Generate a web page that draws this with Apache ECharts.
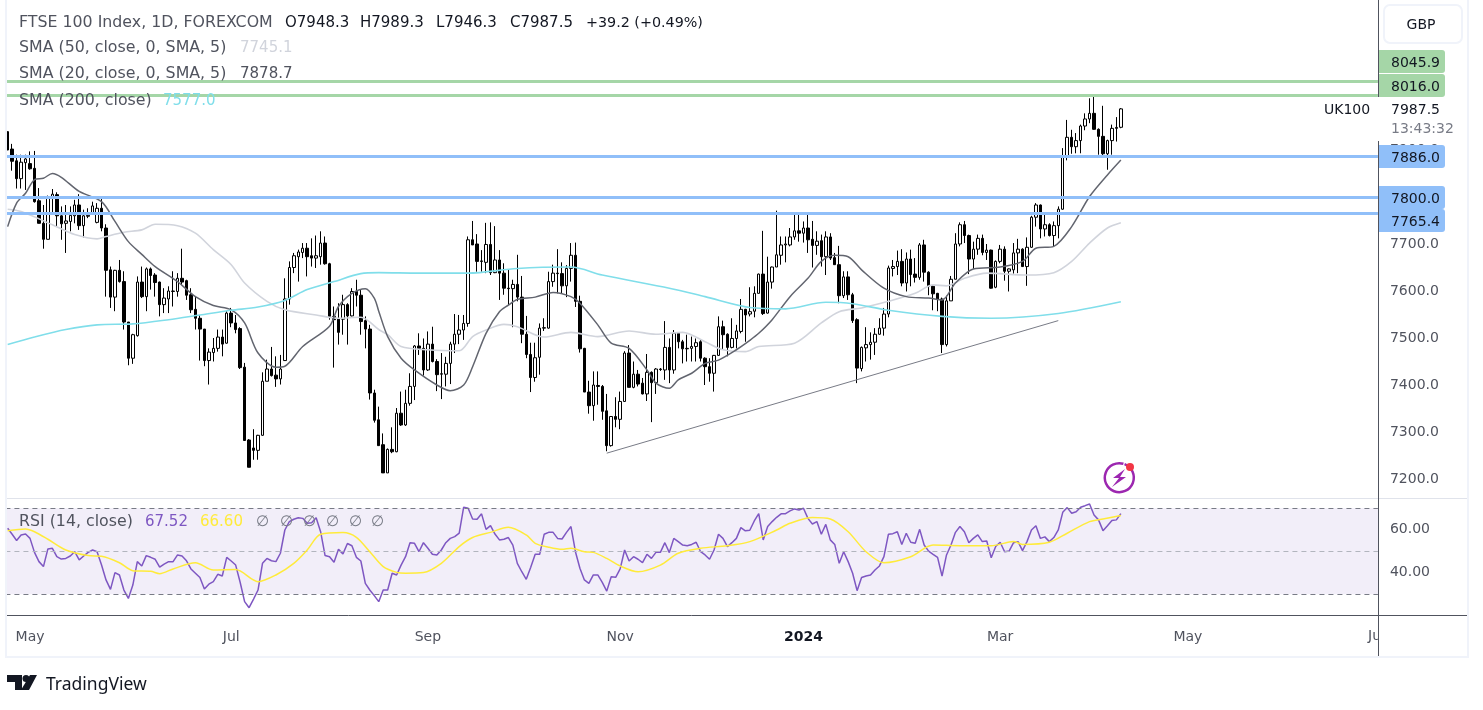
<!DOCTYPE html>
<html lang="en">
<head>
<meta charset="UTF-8">
<title>FTSE 100 Index</title>
<script src="https://cdn.jsdelivr.net/npm/echarts@6/dist/echarts.min.js"></script>
<style>
  html, body { margin: 0; padding: 0; background: #fff; }
  #main { width: 1483px; height: 710px; }
</style>
</head>
<body>
<div id="main"></div>
<script>
// open, close, low, high
var candles = [
  [7939,7900,7900,7939],[7902,7876,7856,7913],[7877,7839,7818,7890],[7839,7874,7818,7890],[7873,7881,7815,7890],
  [7871,7860,7858,7897],[7861,7790,7788,7898],[7792,7744,7744,7819],[7744,7710,7690,7783],[7710,7798,7710,7803],
  [7801,7806,7766,7817],[7805,7760,7737,7810],[7760,7743,7709,7780],[7744,7749,7681,7783],[7748,7761,7727,7780],
  [7760,7783,7744,7794],[7783,7739,7730,7806],[7739,7760,7714,7773],[7759,7761,7755,7776],[7767,7781,7762,7790],
  [7746,7776,7744,7787],[7776,7734,7727,7796],[7734,7644,7588,7742],[7645,7587,7564,7652],[7587,7644,7557,7645],
  [7644,7620,7618,7666],[7620,7534,7518,7642],[7534,7457,7442,7534],[7457,7507,7445,7509],[7505,7619,7503,7631],
  [7619,7588,7585,7652],[7588,7647,7557,7650],[7647,7633,7603,7650],[7634,7618,7588,7638],[7619,7571,7546,7620],
  [7571,7585,7553,7606],[7583,7600,7553,7610],[7599,7600,7567,7642],[7599,7627,7588,7638],[7627,7619,7613,7690],
  [7622,7591,7581,7624],[7592,7560,7553,7606],[7561,7542,7518,7588],[7542,7519,7452,7549],[7519,7452,7440,7519],
  [7452,7470,7401,7478],[7469,7478,7450,7500],[7478,7502,7471,7518],[7502,7487,7461,7518],[7489,7553,7488,7557],
  [7553,7532,7523,7564],[7532,7518,7510,7549],[7520,7437,7434,7523],[7438,7282,7282,7447],[7283,7225,7225,7285],
  [7266,7261,7241,7306],[7261,7293,7241,7294],[7293,7408,7292,7427],[7408,7434,7408,7454],[7434,7420,7418,7481],
  [7421,7413,7396,7461],[7413,7434,7401,7464],[7452,7583,7452,7627],[7583,7650,7571,7663],[7650,7675,7638,7681],
  [7673,7683,7620,7688],[7682,7691,7670,7702],[7691,7673,7631,7702],[7675,7670,7652,7712],[7670,7675,7649,7718],
  [7673,7702,7656,7727],[7702,7658,7656,7716],[7658,7546,7539,7660],[7546,7539,7437,7567],[7540,7512,7486,7574],
  [7540,7571,7507,7592],[7571,7547,7486,7574],[7547,7599,7546,7606],[7599,7591,7567,7624],[7591,7535,7507,7603],
  [7537,7519,7478,7546],[7519,7383,7369,7528],[7383,7325,7320,7390],[7326,7271,7271,7354],
  [7273,7213,7213,7297],[7213,7263,7213,7265],[7263,7258,7255,7310],[7258,7340,7257,7351],[7340,7315,7313,7386],
  [7315,7361,7313,7390],[7361,7397,7356,7425],[7397,7483,7368,7485],[7483,7478,7464,7510],[7478,7432,7420,7499],
  [7432,7487,7430,7514],[7487,7450,7448,7524],[7450,7422,7387,7455],[7423,7424,7370,7468],[7423,7446,7397,7460],
  [7446,7487,7402,7492],[7487,7508,7468,7551],[7508,7517,7487,7549],[7517,7531,7496,7549],[7531,7709,7524,7716],
  [7709,7698,7698,7749],[7700,7663,7641,7721],[7664,7663,7641,7687],[7661,7699,7638,7745],[7699,7639,7634,7746],
  [7639,7666,7638,7738],[7666,7638,7581,7687],[7638,7606,7592,7659],[7606,7605,7570,7645],[7605,7614,7523,7624],
  [7614,7587,7578,7677],[7587,7508,7489,7632],[7508,7465,7457,7547],[7465,7416,7385,7490],[7416,7458,7407,7490],
  [7459,7521,7422,7531],[7521,7522,7515,7542],[7521,7620,7520,7641],[7620,7638,7609,7656],[7638,7637,7595,7689],
  [7637,7611,7594,7661],[7611,7648,7587,7655],[7648,7676,7620,7702],[7676,7578,7566,7703],[7578,7477,7469,7590],
  [7478,7385,7385,7479],[7385,7356,7339,7409],[7356,7400,7324,7429],[7399,7397,7358,7429],[7397,7344,7326,7400],
  [7345,7271,7259,7381],[7271,7333,7269,7334],[7333,7327,7310,7374],[7327,7365,7306,7386],[7365,7468,7365,7472],
  [7468,7395,7395,7485],[7395,7423,7393,7450],[7423,7402,7397,7432],[7404,7381,7380,7415],[7381,7427,7366,7466],
  [7427,7405,7321,7429],[7405,7434,7381,7436],[7434,7433,7430,7436],[7432,7480,7411,7536],[7480,7432,7404,7499],
  [7432,7510,7424,7517],[7510,7492,7478,7512],[7492,7477,7446,7496],[7477,7478,7450,7507],[7478,7482,7450,7503],
  [7482,7490,7450,7499],[7492,7457,7450,7496],[7457,7439,7400,7459],[7439,7425,7407,7457],[7425,7463,7386,7464],
  [7463,7524,7462,7546],[7524,7507,7475,7537],[7508,7480,7461,7510],[7480,7499,7478,7542],[7499,7515,7478,7528],
  [7514,7561,7510,7583],[7561,7549,7492,7562],[7551,7556,7546,7608],
  [7557,7595,7544,7610],[7595,7636,7595,7637],[7636,7552,7549,7728],[7553,7619,7552,7673],[7619,7651,7605,7652],
  [7651,7677,7651,7771],[7676,7698,7656,7716],[7698,7700,7661,7716],[7698,7715,7695,7734],[7715,7728,7709,7762],
  [7728,7723,7705,7762],[7723,7734,7703,7748],[7734,7709,7681,7762],[7710,7697,7650,7749],[7697,7706,7677,7727],
  [7707,7673,7652,7720],[7673,7715,7634,7727],[7715,7670,7666,7723],[7671,7656,7656,7681],[7656,7590,7574,7696],
  [7590,7630,7585,7642],[7630,7592,7581,7642],[7592,7537,7532,7596],[7539,7436,7404,7542],[7435,7480,7429,7482],
  [7479,7486,7450,7523],[7486,7491,7454,7512],[7491,7508,7464,7521],[7508,7521,7507,7542],[7521,7551,7505,7564],
  [7551,7649,7544,7654],[7648,7652,7631,7666],[7652,7663,7634,7686],[7663,7617,7610,7689],[7617,7668,7599,7682],
  [7668,7635,7610,7688],[7636,7629,7618,7670],[7629,7698,7624,7702],[7698,7640,7620,7709],[7640,7610,7591,7642],
  [7610,7594,7559,7612],[7595,7583,7557,7596],[7583,7486,7468,7586],[7486,7579,7482,7590],[7579,7625,7579,7632],
  [7625,7700,7625,7723],[7700,7741,7695,7746],[7741,7718,7702,7749],[7718,7668,7636,7720],[7668,7689,7647,7705],
  [7689,7712,7677,7720],[7712,7682,7676,7720],[7682,7687,7666,7700],[7687,7606,7605,7688],[7608,7663,7606,7665],
  [7663,7689,7659,7698],[7689,7642,7622,7695],[7642,7647,7599,7648],[7645,7681,7637,7702],[7681,7689,7638,7711],
  [7689,7652,7651,7691],[7652,7693,7611,7714],[7693,7757,7692,7760],[7757,7783,7737,7787],[7783,7732,7712,7784],
  [7732,7741,7716,7762],[7741,7718,7716,7744],[7718,7739,7695,7748],[7739,7774,7712,7780],[7774,7886,7773,7904],
  [7886,7927,7878,7964],[7927,7907,7892,7943],[7907,7920,7893,7936],[7920,7951,7893,7954],[7951,7966,7942,7978],
  [7966,7978,7957,8010],[7978,7944,7943,8014],[7944,7929,7890,7946],[7929,7892,7883,7994],[7892,7920,7858,7922],
  [7920,7946,7890,7954],[7946,7948,7918,7970],[7948.3,7987.5,7946.3,7989.3]
];

var sma20 = [[0,7737],[2,7787],[4,7808],[6,7837],[8,7840],[10,7850],[12,7842],[16,7812],[21,7790],[24,7748],[27,7705],[30,7678],[33,7652],[38,7620],[42,7588],[46,7569],[50,7560],[53,7532],[56,7468],[60,7438],[62,7440],[66,7482],[72,7525],[74,7567],[77,7595],[80,7605],[82,7585],[83,7557],[85,7503],[88,7457],[91,7432],[96,7400],[99,7388],[102,7400],[104,7439],[107,7510],[110,7556],[112,7570],[114,7582],[118,7587],[122,7597],[126,7588],[128,7574],[132,7528],[135,7489],[139,7478],[143,7432],[145,7404],[148,7393],[150,7411],[153,7425],[156,7446],[159,7453],[163,7475],[166,7495],[168,7510],[171,7539],[175,7588],[179,7627],[182,7663],[185,7676],[188,7673],[191,7645],[196,7606],[201,7588],[206,7585],[209,7581],[212,7617],[216,7647],[222,7651],[227,7663],[230,7691],[234,7695],[238,7737],[242,7801],[246,7847],[249,7878.7]];
var sma50 = [[0,7774],[3,7769],[10,7741],[15,7720],[20,7711],[22,7716],[26,7725],[30,7730],[33,7742],[38,7739],[42,7723],[46,7688],[50,7656],[53,7617],[58,7578],[62,7560],[69,7549],[74,7542],[79,7544],[83,7518],[85,7507],[88,7482],[94,7475],[101,7473],[104,7503],[107,7517],[111,7529],[114,7524],[120,7502],[126,7512],[132,7503],[139,7515],[145,7508],[151,7512],[156,7492],[160,7475],[165,7471],[168,7482],[176,7489],[182,7532],[186,7556],[191,7564],[197,7578],[203,7595],[207,7613],[210,7611],[214,7627],[219,7638],[228,7634],[234,7639],[238,7663],[242,7702],[246,7734],[249,7745.1]];
var sma200 = [[0,7486],[6,7502],[13,7518],[20,7528],[28,7530],[36,7539],[43,7549],[50,7559],[56,7566],[62,7580],[67,7603],[73,7620],[79,7637],[83,7639],[92,7638],[103,7638],[114,7648],[126,7651],[133,7634],[148,7606],[156,7588],[166,7565],[174,7562],[183,7576],[189,7573],[197,7559],[209,7546],[220,7542],[235,7552],[249,7577]];

var rsi = [
  60.7,57.9,55.0,57.6,58.0,56.0,49.5,45.2,42.9,51.1,51.4,47.5,46.4,46.7,47.8,49.8,46.0,47.8,49.5,50.6,
  49.8,43.6,36.7,32.3,40.1,39.0,32.0,28.1,34.3,45.2,43.2,48.0,47.2,46.3,42.6,44.0,45.2,45.2,48.3,47.8,
  45.6,41.8,39.8,37.8,32.5,34.7,35.9,39.3,38.5,47.2,45.5,43.6,35.6,26.6,23.8,27.8,32.0,44.4,46.7,45.6,
  45.2,49.1,59.9,63.8,64.9,65.6,65.3,63.0,63.3,65.6,59.1,48.0,47.5,44.9,50.9,48.8,53.6,52.6,47.2,45.5,
  35.1,32.0,29.4,26.6,32.0,32.0,39.8,39.0,43.6,47.5,54.0,53.7,49.8,54.0,51.4,48.6,48.3,50.6,54.0,56.0,
  56.8,58.4,70.5,70.0,65.0,64.9,67.4,60.2,61.9,58.0,55.3,55.6,56.4,52.9,44.4,40.5,37.0,42.6,48.6,48.6,
  57.9,58.8,58.8,56.0,
  55.7,58.8,61.5,49.8,42.1,36.7,35.1,39.0,39.0,35.6,31.5,38.2,37.9,41.8,50.6,45.5,47.5,46.3,44.7,48.6,
  46.7,49.5,49.5,54.0,49.4,56.0,54.5,52.9,52.6,53.2,54.2,49.8,48.3,46.3,50.6,57.9,56.0,52.2,54.0,56.0,
  61.0,59.5,59.8,64.1,67.5,55.3,61.5,63.8,65.8,67.4,67.5,68.8,69.7,69.2,70.0,65.3,62.7,63.8,57.9,62.5,
  55.3,53.2,44.4,49.8,45.2,39.8,31.7,37.8,38.5,39.0,41.3,43.2,47.5,57.9,58.2,59.1,53.2,58.4,54.2,53.7,
  60.2,52.9,50.1,48.6,47.2,38.5,48.3,52.9,58.8,61.5,59.1,54.0,56.0,57.6,54.5,54.8,47.0,52.2,54.2,49.8,
  50.1,54.0,54.5,50.3,54.5,59.9,61.9,56.0,56.7,54.5,56.4,59.9,68.1,70.3,67.7,68.4,70.5,71.2,72.0,66.9,
  64.6,59.6,61.9,64.3,64.6,67.52
];
var rsiMa = [[0,59.5],[4,60.4],[6,59.1],[9,55.6],[13,50.6],[18,48.0],[21,47.7],[25,44.7],[28,41.0],[32,40.7],[34,39.6],[37,41.8],[42,44.7],[46,41.3],[51,41.5],[56,35.9],[60,39.0],[64,44.4],[67,50.6],[70,57.9],[75,58.7],[78,56.5],[81,49.8],[84,42.9],[87,40.2],[89,39.8],[93,40.1],[97,44.4],[101,52.2],[104,56.4],[108,58.8],[112,61.2],[116,57.6],[118,53.7],[121,51.9],[124,50.9],[126,51.4],[129,49.8],[131,49.5],[134,46.7],[137,43.2],[141,40.5],[146,43.6],[150,49.1],[155,51.4],[161,52.6],[166,54.5],[172,59.9],[175,63.0],[180,65.7],[184,65.0],[188,59.1],[192,49.8],[196,44.7],[202,47.5],[207,52.9],[213,52.6],[220,52.6],[225,54.5],[227,53.2],[233,54.2],[237,58.4],[242,63.8],[245,65.0],[249,66.6]];

var supports = [7886, 7800, 7765.4];
var resistances = [8045.9, 8016];
var trendLine = [[134,7255],[235,7537]];

var priceTicks = [7200,7300,7400,7500,7600,7700,7800,7900,8000,8100];
var rsiTicks = [40,60];
var rsiBands = [70,50,30];
var monthBars = [5,50,94,137,178,222,264];
var monthLabels = ['May','Jul','Sep','Nov','2024','Mar','May'];

var barSlots = 307;
var categories = [];
for (var i = 0; i < barSlots; i++) categories.push(String(i));

var FONT = '"DejaVu Sans"';
var GREY = '#50535e';

function levelLine(values, color) {
    return {
        silent: true, symbol: 'none', animation: false,
        label: { show: false },
        lineStyle: { color: color, width: 3, type: 'solid' },
        data: values.map(function (v) { return { yAxis: v }; })
    };
}

function avgLine(name, data, color, width) {
    return {
        name: name, type: 'line', data: data, xAxisIndex: 0, yAxisIndex: 0, z: 4,
        symbol: 'none', smooth: 0.3, silent: true,
        lineStyle: { color: color, width: width }
    };
}

function txt(x, y, s, color, extra) {
    var style = { x: x, y: y, text: s, fill: color, font: '14px ' + FONT, textVerticalAlign: 'middle' };
    for (var k in extra) style[k] = extra[k];
    return { type: 'text', z: 50, silent: true, style: style };
}

// header names run a little larger than the numbers beside them
function head(x, y, s, color) {
    return txt(x, y, s, color, { font: '15.8px ' + FONT });
}
function headVal(x, y, s, color, size) {
    return txt(x, y, s, color, { font: (size || 15) + 'px ' + FONT });
}

function tag(y, s, color) {
    return [
        { type: 'rect', z: 40, silent: true, shape: { x: 1378, y: y, width: 67, height: 23, r: [0, 3, 3, 0] }, style: { fill: color } },
        { type: 'text', z: 41, silent: true, style: { x: 1391, y: y + 13, text: s, fill: '#131722', font: '14px ' + FONT, textVerticalAlign: 'middle' } }
    ];
}

var graphics = [
    // frame
    { type: 'rect', z: 30, silent: true, shape: { x: 0, y: 0, width: 5.5, height: 660 }, style: { fill: '#fff' } },
    { type: 'rect', z: 31, silent: true, shape: { x: 5, y: 0, width: 2, height: 658 }, style: { fill: '#f0f3fa' } },
    { type: 'rect', z: 31, silent: true, shape: { x: 1467, y: 0, width: 2, height: 658 }, style: { fill: '#f0f3fa' } },
    { type: 'rect', z: 31, silent: true, shape: { x: 5, y: 656, width: 1464, height: 2 }, style: { fill: '#f0f3fa' } },
    { type: 'rect', z: 20, silent: true, shape: { x: 7, y: 498, width: 1460, height: 1 }, style: { fill: '#e0e3eb' } },
    { type: 'rect', z: 20, silent: true, shape: { x: 1378, y: 615, width: 89, height: 1 }, style: { fill: GREY } },
    { type: 'rect', z: 61, silent: true, shape: { x: 1378, y: 0, width: 1, height: 656 }, style: { fill: GREY } },

    // GBP button
    { type: 'rect', z: 62, silent: true, shape: { x: 1384, y: 5, width: 78, height: 38, r: 6 }, style: { fill: '#fff', stroke: '#f0f3fa', lineWidth: 2 } },
    { type: 'text', z: 63, silent: true, style: { x: 1421, y: 25, text: 'GBP', fill: '#131722', font: '14px ' + FONT, textAlign: 'center', textVerticalAlign: 'middle' } },

    // header
    head(19, 23, 'FTSE 100 Index, 1D, FOREXCOM', GREY),
    headVal(285, 23, 'O7948.3', '#131722'),
    headVal(360, 23, 'H7989.3', '#131722'),
    headVal(436, 23, 'L7946.3', '#131722'),
    headVal(510, 23, 'C7987.5', '#131722'),
    headVal(586, 23, '+39.2 (+0.49%)', '#131722', 14.3),
    head(19, 48, 'SMA (50, close, 0, SMA, 5)', GREY),
    headVal(240, 48, '7745.1', '#d1d4dc'),
    head(19, 74, 'SMA (20, close, 0, SMA, 5)', GREY),
    headVal(240, 74, '7878.7', GREY),
    head(19, 101, 'SMA (200, close)', GREY),
    headVal(163, 101, '7577.0', '#80deea'),

    // RSI header
    head(19, 522, 'RSI (14, close)', GREY),
    headVal(145, 522, '67.52', '#7e57c2'),
    headVal(200, 522, '66.60', '#ffeb3b'),

    // last price
    { type: 'rect', z: 62, silent: true, shape: { x: 1378, y: 97, width: 68, height: 44 }, style: { fill: '#fff' } },
    txt(1324, 110, 'UK100', '#131722'),
    { type: 'text', z: 63, silent: true, style: { x: 1391, y: 110, text: '7987.5', fill: '#131722', font: '14px ' + FONT, textVerticalAlign: 'middle' } },
    { type: 'text', z: 63, silent: true, style: { x: 1391, y: 129, text: '13:43:32', fill: '#787b86', font: '14px ' + FONT, textVerticalAlign: 'middle' } },

    // clipped Jul label on the time axis
    txt(1368, 636, 'Jul', GREY),
    { type: 'rect', z: 60, silent: true, shape: { x: 1378, y: 616, width: 89, height: 40 }, style: { fill: '#fff' } },

    // lightning badge
    { type: 'arc', z: 40, silent: true, shape: { cx: 1119.3, cy: 477.7, r: 14.5, startAngle: -1.2, endAngle: 5.0 }, style: { stroke: '#9c27b0', lineWidth: 2.5, fill: null } },
    { type: 'polygon', z: 41, silent: true, shape: { points: [[1125, 469], [1113, 478], [1119, 478], [1112, 487], [1126, 477], [1120, 477]] }, style: { fill: '#9c27b0' } },
    { type: 'circle', z: 42, silent: true, shape: { cx: 1130, cy: 467, r: 4 }, style: { fill: '#f23645' } },

    // TradingView mark
    { type: 'polygon', z: 40, silent: true, shape: { points: [[7, 675], [22, 675], [22, 690], [15, 690], [15, 682], [7, 682]] }, style: { fill: '#131722' } },
    { type: 'circle', z: 40, silent: true, shape: { cx: 26, cy: 678.5, r: 3.5 }, style: { fill: '#131722' } },
    { type: 'polygon', z: 40, silent: true, shape: { points: [[30, 675], [37, 675], [29, 690], [21, 690]] }, style: { fill: '#131722' } },
    txt(46, 685, 'TradingView', '#131722', { font: '17.5px "Noto Sans"' })
];
[256, 280, 303, 326, 349, 371].forEach(function (x) { graphics.push(headVal(x, 522, '\u2205', '#787b86')); });
graphics = graphics.concat(
    tag(50, '8045.9', '#a5d6a7'), tag(74, '8016.0', '#a5d6a7'),
    tag(145, '7886.0', '#90bff9'), tag(186, '7800.0', '#90bff9'), tag(209, '7765.4', '#90bff9')
);

var chart = echarts.init(document.getElementById('main'));
var GRID_X = { left: 5.43, width: 1372.5 };
chart.setOption({
    animation: false,
    backgroundColor: '#fff',
    textStyle: { fontFamily: FONT },
    grid: [
        { left: GRID_X.left, width: GRID_X.width, top: 8, height: 490 },
        { left: GRID_X.left, width: GRID_X.width, top: 499, height: 116 }
    ],
    xAxis: [
        { type: 'category', gridIndex: 0, data: categories, axisLine: { show: false }, axisTick: { show: false }, axisLabel: { show: false }, splitLine: { show: false } },
        {
            type: 'category', gridIndex: 1, data: categories,
            axisLine: { show: true, onZero: false, lineStyle: { color: GREY, width: 1 } },
            axisTick: { show: false }, splitLine: { show: false },
            axisLabel: {
                margin: 15, fontSize: 14, color: GREY, fontFamily: FONT,
                interval: function (index) { return monthBars.indexOf(index) >= 0; },
                formatter: function (v) {
                    var s = monthLabels[monthBars.indexOf(Number(v))];
                    return s === '2024' ? '{b|2024}' : s;
                },
                rich: { b: { fontSize: 14, fontWeight: 'bold', color: '#131722', fontFamily: FONT } }
            }
        }
    ],
    yAxis: [
        {
            type: 'value', gridIndex: 0, position: 'right', scale: true,
            min: 7159.6, max: 8202.1,
            axisLine: { show: false }, axisTick: { show: false }, splitLine: { show: false },
            axisLabel: {
                customValues: priceTicks, margin: 12, fontSize: 14, color: GREY, fontFamily: FONT, padding: [2, 0, 0, 0],
                formatter: function (v) { return v.toFixed(1); }
            }
        },
        {
            type: 'value', gridIndex: 1, position: 'right', scale: true,
            min: 20.4, max: 74.3,
            axisLine: { show: false }, axisTick: { show: false }, splitLine: { show: false },
            axisLabel: {
                customValues: rsiTicks, margin: 12, fontSize: 14, color: GREY, fontFamily: FONT, padding: [2, 0, 0, 0],
                formatter: function (v) { return v.toFixed(2); }
            }
        }
    ],
    series: [
        {
            name: 'FTSE 100', type: 'candlestick', xAxisIndex: 0, yAxisIndex: 0, data: candles, z: 3,
            barWidth: 3,
            itemStyle: { color: '#ffffff', color0: '#000000', borderColor: '#000000', borderColor0: '#000000', borderWidth: 1 },
            markLine: levelLine(resistances, '#a5d6a7')
        },
        avgLine('SMA 50', sma50, '#d1d4dc', 1.6),
        avgLine('SMA 20', sma20, '#62656f', 1.5),
        avgLine('SMA 200', sma200, '#80deea', 1.6),
        {
            name: 'Trend', type: 'line', xAxisIndex: 0, yAxisIndex: 0, data: trendLine, z: 4, symbol: 'none', silent: true,
            lineStyle: { color: '#787b86', width: 1 },
            markLine: levelLine(supports, '#90bff9')
        },
        {
            name: 'RSI', type: 'line', xAxisIndex: 1, yAxisIndex: 1, data: rsi, z: 4, symbol: 'none', silent: true,
            lineStyle: { color: '#7e57c2', width: 1.5 },
            markArea: {
                silent: true,
                itemStyle: { color: 'rgba(126,87,194,0.1)' },
                data: [[{ yAxis: rsiBands[0] }, { yAxis: rsiBands[2] }]]
            },
            markLine: {
                silent: true, symbol: 'none', label: { show: false },
                data: [
                    { yAxis: rsiBands[0], lineStyle: { color: '#787b86', type: [5, 4], width: 1 } },
                    { yAxis: rsiBands[1], lineStyle: { color: '#b2b5be', type: [5, 4], width: 1 } },
                    { yAxis: rsiBands[2], lineStyle: { color: '#787b86', type: [5, 4], width: 1 } }
                ]
            }
        },
        {
            name: 'RSI MA', type: 'line', xAxisIndex: 1, yAxisIndex: 1, data: rsiMa, z: 5, symbol: 'none', smooth: 0.3, silent: true,
            lineStyle: { color: '#ffeb3b', width: 1.5 }
        }
    ],
    graphic: graphics
});
</script>
</body>
</html>
